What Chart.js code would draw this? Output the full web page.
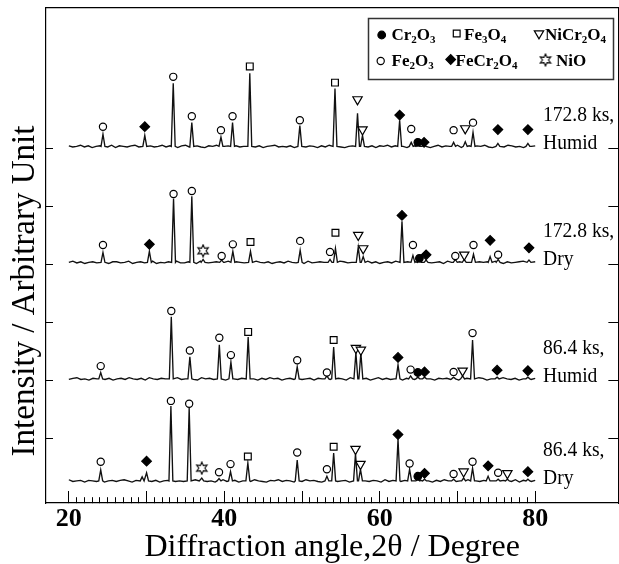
<!DOCTYPE html>
<html>
<head>
<meta charset="utf-8">
<script src="https://cdn.jsdelivr.net/npm/chart.js@4.4.0/dist/chart.umd.min.js"></script>
<style>
  html, body { margin: 0; padding: 0; overflow: hidden; background: #fff; }
  #wrap { width: 626px; height: 564px; }
</style>
</head>
<body>
<div id="wrap"><canvas id="xrd" width="626" height="564"></canvas></div>
<script>
// samples, top to bottom
const sampleTime = ['172.8 ks,', '172.8 ks,', '86.4 ks,', '86.4 ks,'];
const sampleAtm = ['Humid', 'Dry', 'Humid', 'Dry'];
const baselines = [6.03, 4.03, 2.02, 0.26];

// peaks: [2theta, height above baseline]
const peaks172Humid = [
  [24.39, 0.21], [29.77, 0.19], [33.43, 1.09], [35.82, 0.41], [39.57, 0.16], [41.06, 0.41],
  [43.28, 1.26], [49.72, 0.36], [54.24, 1.0], [57.14, 0.57], [57.78, 0.19], [62.56, 0.45],
  [64.05, 0.07], [64.9, 0.04], [65.7, 0.04], [69.5, 0.07], [71.0, 0.08], [72.0, 0.24],
  [75.2, 0.05], [79.06, 0.05]
];
const peaks172Dry = [
  [24.39, 0.17], [30.36, 0.19], [33.47, 1.1], [35.82, 1.14], [37.27, 0.05], [39.66, 0.04],
  [41.1, 0.19], [43.37, 0.19], [49.76, 0.21], [53.6, 0.05], [54.3, 0.24], [57.23, 0.26],
  [57.87, 0.1], [62.86, 0.71], [64.27, 0.12], [65.1, 0.04], [65.96, 0.04], [69.72, 0.05],
  [70.87, 0.05], [72.06, 0.14], [74.2, 0.1], [75.23, 0.05], [79.2, 0.04]
];
const peaks86Humid = [
  [24.1, 0.11], [33.18, 1.07], [35.57, 0.38], [39.36, 0.59], [40.85, 0.29], [43.07, 0.72],
  [49.38, 0.21], [53.2, 0.05], [54.07, 0.55], [56.93, 0.45], [57.57, 0.45], [62.35, 0.24],
  [63.97, 0.05], [64.9, 0.03], [65.76, 0.03], [69.5, 0.03], [70.66, 0.05], [71.94, 0.67],
  [75.1, 0.03], [79.06, 0.03]
];
const peaks86Dry = [
  [24.1, 0.19], [29.43, 0.07], [30.0, 0.14], [33.13, 1.29], [35.48, 1.26], [37.1, 0.05],
  [39.32, 0.04], [40.8, 0.16], [43.03, 0.31], [49.38, 0.36], [53.2, 0.08], [54.07, 0.48],
  [56.88, 0.47], [57.52, 0.2], [62.35, 0.72], [63.84, 0.2], [64.9, 0.03], [65.76, 0.03],
  [69.5, 0.03], [70.79, 0.05], [71.94, 0.22], [73.94, 0.08], [75.23, 0.03], [76.42, 0.03],
  [79.06, 0.03]
];

// baseline wiggle in hundredths, read along 20..80 deg
const noise172Humid = [1,-1,0,2,-1,1,-2,0,1,0,-1,2,-2,1,0,-1,1,2,-1,0,-2,1,-1,0,2,-1,1,0,-2,1,2,-1,0,1,-1,-2,1,0,2,-1,0,1,-2,1,-1,0,2,0,-1,1,-2,0,1,2,-1,0,-1,1,-2,2,0,-1,1,0,-2,1,-1,2,0,1,-1,-2,0,1,2,-1,0,-1,1,-2,1,0,2,-1,1,-1,0,-2,2,1,-1,0,1,-2,0,2,-1,1,0,-1,2,-2,0,1,-1,1,0,2,-1,-2,1,0,-1,2,1,-1,0,-2,1,0,1];
const noise172Dry = [0,2,-1,1,-2,0,1,-1,2,0,-2,1,1,-1,0,2,-2,0,1,-1,1,2,-2,0,-1,1,0,2,-1,-1,1,0,-2,2,1,-1,0,1,-2,0,2,-1,1,0,-1,-2,1,2,0,-1,1,-2,0,1,-1,2,0,-1,1,-2,2,-1,0,1,0,-2,1,-1,2,1,-1,0,-2,1,0,2,-1,1,-2,0,1,-1,2,0,-1,1,-2,1,0,-1,2,-1,0,1,-2,2,0,-1,1,-1,0,2,-2,1,0,1,-1,2,0,-2,1,-1,0,1,2,-1,0,1];
const noise86Humid = [-1,1,2,-1,0,-2,1,0,2,-1,1,-2,0,1,-1,2,0,-1,1,-2,2,0,-1,1,0,-2,1,2,-1,0,1,-1,-2,2,0,1,-1,0,2,-2,1,0,-1,1,2,-1,0,-2,1,-1,2,0,1,-2,0,1,-1,2,-1,0,1,-2,1,0,2,-1,-1,1,0,-2,2,1,-1,0,1,-2,0,2,-1,1,-1,0,2,-2,1,0,-1,1,2,-1,0,-2,1,0,1,-1,2,-2,0,1,-1,0,2,1,-2,0,1,-1,2,0,-1,1,-2,0,2,-1,1];
const noise86Dry = [2,-1,0,1,-2,1,0,-1,2,-2,0,1,-1,1,2,0,-2,1,-1,0,2,-1,1,-2,0,1,2,-1,0,-1,1,-2,2,0,1,-1,0,-2,1,2,-1,0,1,-2,0,1,-1,2,0,-1,-2,1,0,2,-1,1,0,-2,1,-1,2,0,1,-1,-2,1,0,2,-1,0,1,-2,1,-1,2,0,-1,1,0,-2,2,-1,1,0,-1,1,-2,0,2,1,-1,0,-2,1,-1,2,0,1,-1,0,-2,2,1,0,-1,1,-2,0,2,-1,1,0,-1,2,-2,1,0,-1,1];

// phase marks [2theta, y]
const phaseNames = ['Cr2O3', 'Fe3O4', 'NiCr2O4', 'Fe2O3', 'FeCr2O4', 'NiO'];
const cr2o3Marks = [[64.9, 6.1], [65.1, 4.1], [64.9, 2.13], [64.9, 0.34]];
const fe3o4Marks = [
  [43.28, 7.41], [54.24, 7.13], [43.37, 4.38], [54.3, 4.54],
  [43.07, 2.83], [54.07, 2.69], [43.03, 0.68], [54.07, 0.85]
];
const nicr2o4Marks = [
  [57.14, 6.84], [57.78, 6.32], [71.0, 6.34],
  [57.23, 4.5], [57.87, 4.27], [70.87, 4.16],
  [56.93, 2.55], [57.57, 2.52], [70.66, 2.16],
  [56.88, 0.81], [57.52, 0.55], [70.79, 0.42], [76.42, 0.39]
];
const fe2o3Marks = [
  [24.39, 6.37], [33.43, 7.23], [35.82, 6.55], [39.57, 6.31], [41.06, 6.55], [49.72, 6.48],
  [64.05, 6.33], [69.5, 6.31], [72.0, 6.44],
  [24.39, 4.33], [33.47, 5.21], [35.82, 5.26], [39.66, 4.14], [41.1, 4.34], [49.76, 4.4],
  [53.6, 4.21], [64.27, 4.33], [69.72, 4.14], [72.06, 4.33], [75.23, 4.16],
  [24.1, 2.24], [33.18, 3.19], [35.57, 2.51], [39.36, 2.73], [40.85, 2.43], [49.38, 2.34],
  [53.2, 2.13], [63.97, 2.18], [69.5, 2.14], [71.94, 2.81],
  [24.1, 0.59], [33.13, 1.64], [35.48, 1.59], [39.32, 0.41], [40.8, 0.55], [49.38, 0.75],
  [53.2, 0.46], [63.84, 0.56], [69.5, 0.38], [71.94, 0.59], [75.23, 0.4]
];
const fecr2o4Marks = [
  [29.77, 6.37], [62.56, 6.57], [65.7, 6.1], [75.2, 6.32], [79.06, 6.32],
  [30.36, 4.34], [62.86, 4.84], [65.96, 4.16], [74.2, 4.41], [79.2, 4.28],
  [62.35, 2.39], [65.76, 2.14], [75.1, 2.17], [79.06, 2.16],
  [30.0, 0.6], [62.35, 1.06], [65.76, 0.39], [73.94, 0.52], [79.06, 0.42]
];
const nioMarks = [[37.27, 4.23], [37.1, 0.48]];

const X_MIN = 17.06, X_MAX = 90.7, Y_MIN = -0.121, Y_MAX = 8.431;
const SERIF = '"Liberation Serif", "Times New Roman", serif';

function buildTrace(base, peaks, noise) {
  const step = 60 / (noise.length - 1);
  const pts = [];
  noise.forEach((n, i) => {
    const x = 20 + i * step;
    if (peaks.some(p => Math.abs(p[0] - x) < 0.32)) return;
    pts.push({ x: x, y: base + n / 100 });
  });
  peaks.forEach(p => {
    pts.push({ x: p[0] - 0.25, y: base });
    pts.push({ x: p[0], y: base + p[1] });
    pts.push({ x: p[0] + 0.25, y: base });
  });
  return pts.sort((a, b) => a.x - b.x);
}

const starImg = (() => {
  const c = document.createElement('canvas');
  c.width = 14; c.height = 14;
  const g = c.getContext('2d');
  g.beginPath();
  for (let k = 0; k < 12; k++) {
    const r = k % 2 ? 3 : 6;
    const a = k * Math.PI / 6 - Math.PI / 2;
    const px = 7 + r * Math.cos(a), py = 7 + r * Math.sin(a);
    if (k) g.lineTo(px, py); else g.moveTo(px, py);
  }
  g.closePath();
  g.fillStyle = '#fff'; g.fill();
  g.lineWidth = 1.1; g.strokeStyle = '#000'; g.stroke();
  return c;
})();

const phaseStyle = {
  Cr2O3: { pointStyle: 'circle', radius: 3.8, fill: '#000', rotation: 0 },
  Fe3O4: { pointStyle: 'rect', radius: 4.8, fill: '#fff', rotation: 0 },
  NiCr2O4: { pointStyle: 'triangle', radius: 5.4, fill: '#fff', rotation: 180 },
  Fe2O3: { pointStyle: 'circle', radius: 3.6, fill: '#fff', rotation: 0 },
  FeCr2O4: { pointStyle: 'rectRot', radius: 4.8, fill: '#000', rotation: 0 },
  NiO: { pointStyle: starImg, radius: 6, fill: '#fff', rotation: 0 }
};
const phaseMarks = [cr2o3Marks, fe3o4Marks, nicr2o4Marks, fe2o3Marks, fecr2o4Marks, nioMarks];

const traces = [
  buildTrace(baselines[0], peaks172Humid, noise172Humid),
  buildTrace(baselines[1], peaks172Dry, noise172Dry),
  buildTrace(baselines[2], peaks86Humid, noise86Humid),
  buildTrace(baselines[3], peaks86Dry, noise86Dry)
];

const datasets = [];
phaseNames.forEach((name, i) => {
  const st = phaseStyle[name];
  datasets.push({
    label: name,
    data: phaseMarks[i].map(m => ({ x: m[0], y: m[1] })),
    showLine: false,
    pointStyle: st.pointStyle,
    pointRadius: st.radius,
    pointRotation: st.rotation,
    pointBackgroundColor: st.fill,
    pointBorderColor: '#000',
    pointBorderWidth: 1.2,
    order: 0
  });
});
traces.forEach((t, i) => {
  datasets.push({
    label: sampleTime[i] + ' ' + sampleAtm[i],
    data: t,
    showLine: true,
    borderColor: '#111',
    borderWidth: 1.35,
    pointRadius: 0,
    tension: 0,
    order: 1
  });
});

const inTick = (lo, hi) => c => (c.tick && c.tick.value >= lo && c.tick.value <= hi) ? '#000' : 'rgba(0,0,0,0)';

// frame legend in the upper right, with subscripts
const phaseLegend = {
  id: 'phaseLegend',
  afterDraw(chart) {
    const ctx = chart.ctx;
    const slots = [
      [381.7, 35, 391.5, 40], [456.7, 33.5, 464, 40], [539, 33.5, 545, 40],
      [380.7, 61, 391.5, 65.5], [450.7, 59.5, 455.5, 65.5], [545.5, 60, 556, 65.5]
    ];
    ctx.save();
    ctx.fillStyle = '#fff';
    ctx.fillRect(368.5, 18.5, 245, 61);
    ctx.strokeStyle = '#333';
    ctx.lineWidth = 1.5;
    ctx.strokeRect(368.5, 18.5, 245, 61);
    phaseNames.forEach((name, i) => {
      const st = phaseStyle[name];
      const s = slots[i];
      ctx.fillStyle = st.fill;
      ctx.strokeStyle = '#000';
      ctx.lineWidth = 1.2;
      Chart.helpers.drawPoint(ctx, { pointStyle: st.pointStyle, rotation: st.rotation, radius: st.radius, borderWidth: 1.2 }, s[0], s[1]);
      ctx.fillStyle = '#000';
      ctx.textAlign = 'left';
      ctx.textBaseline = 'alphabetic';
      let cx = s[2];
      for (const ch of name) {
        const sub = /\d/.test(ch);
        ctx.font = 'bold ' + (sub ? 11 : 17) + 'px ' + SERIF;
        ctx.fillText(ch, cx, sub ? s[3] + 3 : s[3]);
        cx += ctx.measureText(ch).width;
      }
    });
    ctx.restore();
  }
};

// sample names at the right end of each trace
const sideText = {
  id: 'sideText',
  afterDraw(chart) {
    const ctx = chart.ctx;
    const ys = chart.scales.y;
    ctx.save();
    ctx.fillStyle = '#000';
    ctx.font = '22px ' + SERIF;
    ctx.textAlign = 'left';
    ctx.textBaseline = 'middle';
    baselines.forEach((b, i) => {
      const py = ys.getPixelForValue(b) - 3;
      ctx.save();
      ctx.translate(543, 0);
      ctx.scale(0.89, 1);
      ctx.fillText(sampleTime[i], 0, py - 28);
      ctx.fillText(sampleAtm[i], 0, py);
      ctx.restore();
    });
    ctx.restore();
  }
};

const yTitle = {
  id: 'yTitle',
  afterDraw(chart) {
    const ctx = chart.ctx;
    ctx.save();
    ctx.translate(25, 291);
    ctx.rotate(-Math.PI / 2);
    ctx.fillStyle = '#000';
    ctx.font = '33px ' + SERIF;
    ctx.textAlign = 'center';
    ctx.textBaseline = 'middle';
    ctx.fillText('Intensity / Arbitrary Unit', 0, 0);
    ctx.restore();
  }
};

new Chart(document.getElementById('xrd'), {
  type: 'scatter',
  data: { datasets: datasets },
  options: {
    responsive: false,
    animation: false,
    layout: { padding: { top: 7, left: 0, right: 0, bottom: 0 } },
    plugins: { legend: { display: false }, tooltip: { enabled: false } },
    scales: {
      x: {
        type: 'linear', position: 'bottom', min: X_MIN, max: X_MAX,
        border: { display: true, color: '#000', width: 1.2 },
        grid: {
          drawOnChartArea: false, drawTicks: true, tickLength: -12, tickWidth: 1,
          tickColor: inTick(20, 80),
          tickBorderDash: c => (c.tick && c.tick.value % 10 === 0) ? [] : [6, 30]
        },
        ticks: {
          stepSize: 1, autoSkip: false, maxRotation: 0, minRotation: 0, includeBounds: false,
          padding: 13, color: '#000',
          font: { family: SERIF, size: 26, weight: 'bold', lineHeight: 1.2 },
          callback: v => (v % 20 === 0 && v >= 20 && v <= 80) ? String(v) : ''
        },
        title: {
          display: true, text: 'Diffraction angle,2θ / Degree', color: '#000',
          font: { family: SERIF, size: 32, lineHeight: 1 }, padding: { top: 0, bottom: 0 }
        },
        afterFit: s => { s.height = 61; }
      },
      xTop: {
        type: 'linear', position: 'top', min: X_MIN, max: X_MAX,
        border: { display: true, color: '#000', width: 1.2 },
        grid: { drawOnChartArea: false, drawTicks: false },
        ticks: { display: false },
        afterFit: s => { s.height = 0; }
      },
      y: {
        type: 'linear', position: 'left', min: Y_MIN, max: Y_MAX,
        border: { display: true, color: '#000', width: 1.2 },
        grid: { drawOnChartArea: false, drawTicks: true, tickLength: -7, tickWidth: 1, tickColor: inTick(1, 6) },
        ticks: { stepSize: 1, display: false, includeBounds: false },
        afterFit: s => { s.width = 46; }
      },
      yRight: {
        type: 'linear', position: 'right', min: Y_MIN, max: Y_MAX,
        border: { display: true, color: '#000', width: 1.2 },
        grid: { drawOnChartArea: false, drawTicks: true, tickLength: -10, tickWidth: 1, tickColor: inTick(1, 6) },
        ticks: { stepSize: 1, display: false, includeBounds: false },
        afterFit: s => { s.width = 4; }
      }
    }
  },
  plugins: [phaseLegend, sideText, yTitle]
});
</script>
</body>
</html>
